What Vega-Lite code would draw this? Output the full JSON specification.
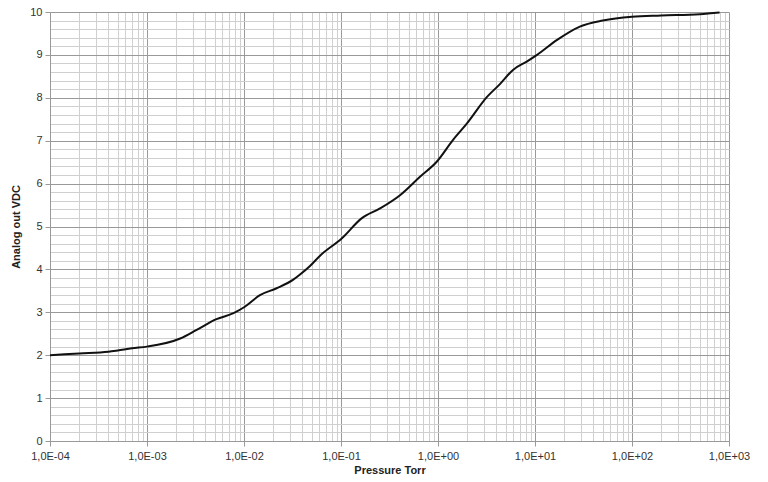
{
  "$schema": "https://vega.github.io/schema/vega-lite/v6.json",
  "autosize": "none",
  "width": 679,
  "height": 429,
  "padding": {"left": 50, "top": 12, "right": 39, "bottom": 41},
  "background": "white",
  "config": {
    "view": {"stroke": null},
    "font": "Liberation Sans",
    "axis": {"labelFont": "Liberation Sans", "titleFont": "Liberation Sans", "labelFontSize": 11, "titleFontSize": 11, "titleFontWeight": "bold", "labelColor": "#333333", "titleColor": "#222222", "domainColor": "#999999", "tickColor": "#999999"}
  },
  "data": {"values": [
    {"p": 0.0001, "v": 2.0},
    {"p": 0.0002, "v": 2.04},
    {"p": 0.0004, "v": 2.08},
    {"p": 0.0005, "v": 2.11},
    {"p": 0.0007, "v": 2.16},
    {"p": 0.001, "v": 2.2},
    {"p": 0.0022, "v": 2.39},
    {"p": 0.00325, "v": 2.59},
    {"p": 0.0052, "v": 2.84},
    {"p": 0.0078, "v": 2.98},
    {"p": 0.0102, "v": 3.13},
    {"p": 0.0146, "v": 3.4},
    {"p": 0.0217, "v": 3.56},
    {"p": 0.0322, "v": 3.76},
    {"p": 0.0378, "v": 3.88},
    {"p": 0.0479, "v": 4.08},
    {"p": 0.0608, "v": 4.32},
    {"p": 0.1016, "v": 4.72},
    {"p": 0.163, "v": 5.19},
    {"p": 0.252, "v": 5.42},
    {"p": 0.406, "v": 5.73},
    {"p": 0.652, "v": 6.16},
    {"p": 0.97, "v": 6.51},
    {"p": 1.43, "v": 7.02},
    {"p": 2.0, "v": 7.41},
    {"p": 3.2, "v": 8.02},
    {"p": 4.35, "v": 8.32},
    {"p": 5.93, "v": 8.65},
    {"p": 8.3, "v": 8.85},
    {"p": 10.5, "v": 9.0},
    {"p": 16.9, "v": 9.35},
    {"p": 29, "v": 9.66},
    {"p": 50, "v": 9.8},
    {"p": 100, "v": 9.89},
    {"p": 200, "v": 9.92},
    {"p": 500, "v": 9.95},
    {"p": 800, "v": 9.99}
  ]},
  "mark": {"type": "line", "color": "#111111", "strokeWidth": 2, "interpolate": "monotone"},
  "encoding": {
    "x": {
      "field": "p", "type": "quantitative",
      "scale": {"type": "log", "domain": [0.0001, 1000], "nice": false},
      "axis": {
        "title": "Pressure Torr",
        "titlePadding": 3,
        "values": [0.0001,0.0002,0.0003,0.0004,0.0005,0.0006,0.0007,0.0008,0.0009,0.001,0.002,0.003,0.004,0.005,0.006,0.007,0.008,0.009,0.01,0.02,0.03,0.04,0.05,0.06,0.07,0.08,0.09,0.1,0.2,0.3,0.4,0.5,0.6,0.7,0.8,0.9,1,2,3,4,5,6,7,8,9,10,20,30,40,50,60,70,80,90,100,200,300,400,500,600,700,800,900,1000],
        "labelExpr": "abs(log(datum.value)/LN10 - round(log(datum.value)/LN10)) < 0.001 ? ('1,0E' + (datum.value < 1 ? '-' : '+') + '0' + toString(abs(round(log(datum.value)/LN10)))) : ''",
        "labelPadding": 4,
        "labelFlush": false,
        "labelOverlap": false,
        "tickSize": 5,
        "tickOpacity": {"condition": {"test": "abs(log(datum.value)/LN10 - round(log(datum.value)/LN10)) < 0.001", "value": 1}, "value": 0},
        "grid": true,
        "gridColor": {"condition": {"test": "abs(log(datum.value)/LN10 - round(log(datum.value)/LN10)) < 0.001", "value": "#999999"}, "value": "#cfcfcf"},
        "gridOpacity": 1,
        "gridWidth": 1
      }
    },
    "y": {
      "field": "v", "type": "quantitative",
      "scale": {"domain": [0, 10], "nice": false},
      "axis": {
        "title": "Analog out VDC",
        "titlePadding": 8,
        "values": [0,0.2,0.4,0.6,0.8,1,1.2,1.4,1.6,1.8,2,2.2,2.4,2.6,2.8,3,3.2,3.4,3.6,3.8,4,4.2,4.4,4.6,4.8,5,5.2,5.4,5.6,5.8,6,6.2,6.4,6.6,6.8,7,7.2,7.4,7.6,7.8,8,8.2,8.4,8.6,8.8,9,9.2,9.4,9.6,9.8,10],
        "labelExpr": "abs(datum.value - round(datum.value)) < 0.001 ? format(datum.value, 'd') : ''",
        "labelPadding": 3,
        "labelOverlap": false,
        "labelFlush": false,
        "tickSize": 5,
        "tickOpacity": {"condition": {"test": "abs(datum.value - round(datum.value)) < 0.001", "value": 1}, "value": 0},
        "grid": true,
        "gridColor": {"condition": {"test": "abs(datum.value - round(datum.value)) < 0.001", "value": "#999999"}, "value": "#cfcfcf"},
        "gridOpacity": 1,
        "gridWidth": 1
      }
    }
  }
}
